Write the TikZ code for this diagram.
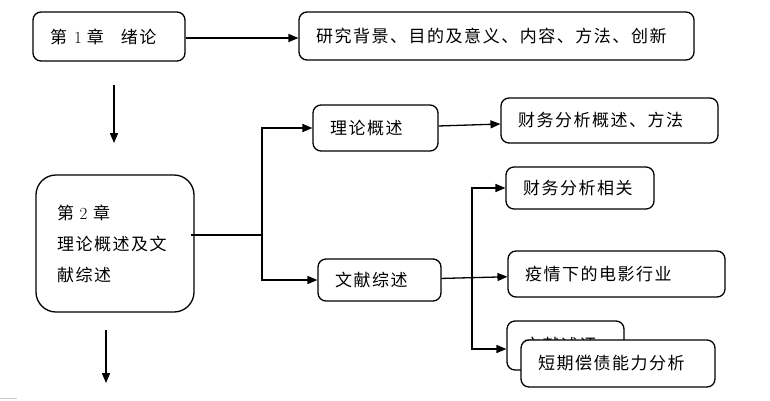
\documentclass[tikz,border=0pt]{standalone}
\usepackage{fontspec}
\newfontfamily\cjk[LetterSpace=9]{Noto Sans CJK SC}
\usetikzlibrary{arrows, positioning}

\begin{document}
\begin{tikzpicture}[x=1pt, y=-1pt, >=triangle 45, line width=1.3pt,
  box/.style={draw, rounded corners=8pt, fill=white, inner xsep=17pt, inner ysep=0pt,
              align=left, text width=#1, font=\cjk\fontsize{17}{20}\selectfont},
]
\useasboundingbox (0,0) rectangle (770,400);

% chapter boxes
\node[box=118pt, minimum height=49pt] (ch1) at (109,36.5) {第\hspace{7pt}{\rmfamily 1}\hspace{5pt}章\hspace{17pt}绪论};
\node[box=361pt, minimum height=48pt] (bg) at (496.5,36) {研究背景、目的及意义、内容、方法、创新};
\node[box=116pt, inner xsep=21pt, rounded corners=20pt, minimum height=137pt,
      font=\cjk\fontsize{17}{31}\selectfont] (ch2) at (115,243.5) {第 {\rmfamily 2} 章\\理论概述及文\\献综述};

% second level
\node[box=91pt, minimum height=46pt] (ll) at (375.5,128) {理论概述};
\node[box=89pt, minimum height=42pt] (wx) at (379.5,280) {文献综述};

% third level
\node[box=183pt, minimum height=45pt] (cw1) at (609.5,120.5) {财务分析概述、方法};
\node[box=114pt, minimum height=42pt] (cw2) at (580,188) {财务分析相关};
\node[box=183pt, minimum height=46pt] (yq) at (616.5,274) {疫情下的电影行业};
\node[box=83pt, minimum height=49pt] (sp) at (565.5,345.5) {文献述评};
\node[box=160pt, minimum height=47pt] (dq) at (618,363.5) {短期偿债能力分析};

\coordinate (a1) at (114,85);
\coordinate (a2) at (114,143);
\coordinate (b1) at (106,330);
\coordinate (b2) at (106,383);
\coordinate (sp1) at (262,235);
\coordinate (t2) at (472,349);

\draw[->] (ch1.east |- 0,38) -- (bg.west |- 0,38);
\draw[->] (a1) -- (a2);
\draw[->] (b1) -- (b2);

\draw ([xshift=-4pt]ch2.east |- sp1) -- (sp1);
\draw[->] (sp1) |- (ll.west);
\draw[->] (sp1) |- (wx.west);

\draw[->] (ll) -- (cw1);
\draw[->] (wx) -- (yq);
\draw[<->] (cw2.west) -| (t2) -- (sp.west |- t2);

\draw[gray!40, line width=0.8pt] (0,398.5) -- (17,398.5);
\end{tikzpicture}
\end{document}
